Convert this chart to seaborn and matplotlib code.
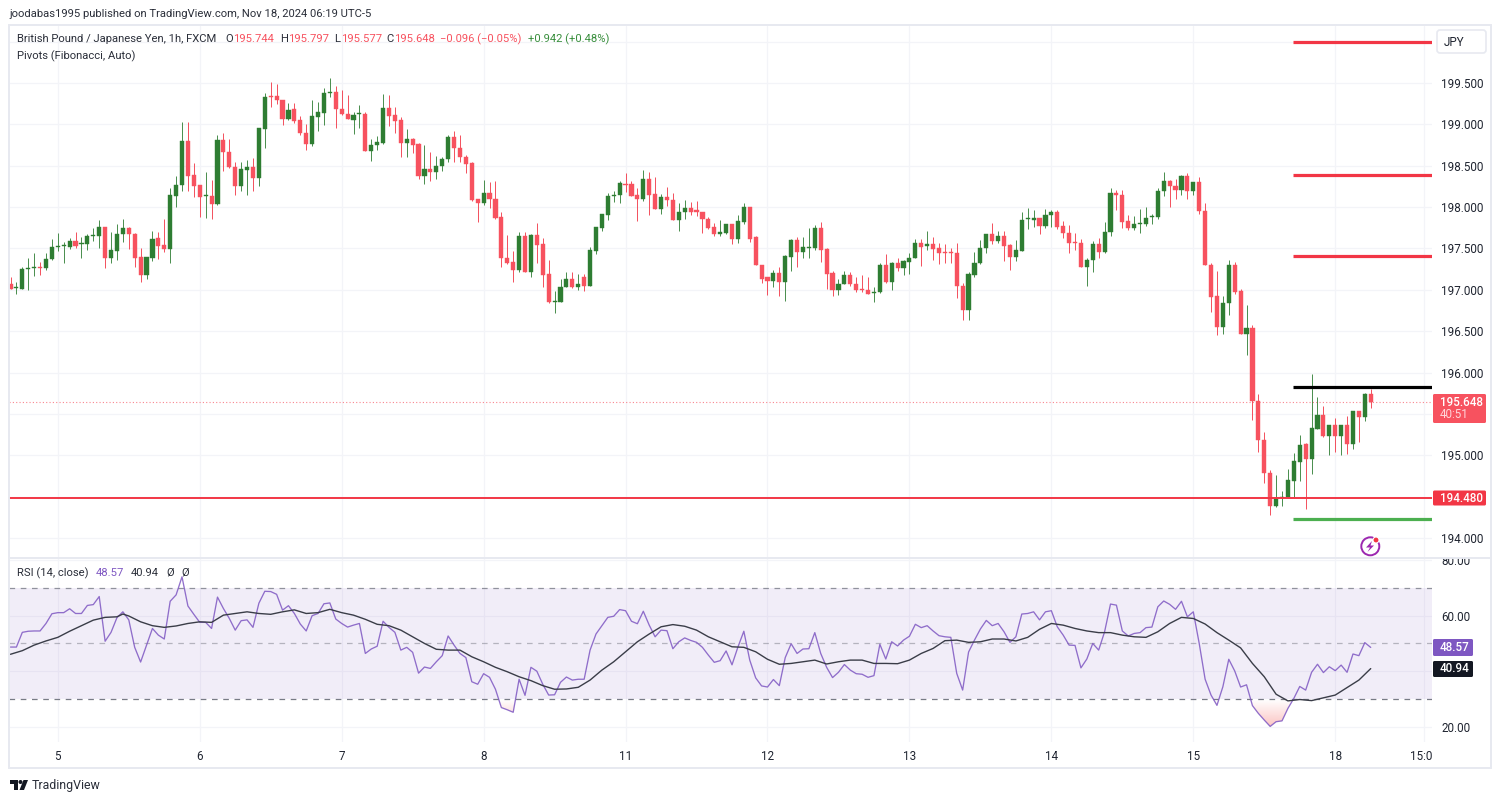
import matplotlib
matplotlib.use("Agg")
import matplotlib.pyplot as plt
import numpy as np
import pandas as pd
import seaborn as sns
from matplotlib.patches import Rectangle, FancyBboxPatch, Circle, Polygon
from matplotlib.path import Path
from matplotlib.transforms import Affine2D, Bbox

opens = [
197.07,197.02,197.01,197.25,197.26,197.27,197.26,197.37,197.52,197.53,
197.52,197.59,197.55,197.55,197.65,197.65,197.76,197.38,197.47,197.67,
197.75,197.68,197.40,197.18,197.39,197.63,197.54,197.49,198.13,198.27,
198.80,198.39,198.27,198.13,198.13,198.04,198.81,198.66,198.48,198.25,
198.45,198.48,198.35,198.94,199.34,199.34,199.30,199.06,199.18,199.05,
198.90,198.76,199.09,199.14,199.38,199.39,199.19,199.13,199.05,199.12,
199.13,198.68,198.75,198.78,199.20,199.11,199.05,198.77,198.82,198.76,
198.37,198.46,198.43,198.50,198.58,198.85,198.72,198.60,198.53,198.10,
198.05,198.17,198.10,197.88,197.38,197.34,197.24,197.65,197.21,197.66,
197.55,197.19,196.85,196.85,197.03,197.13,197.03,197.15,197.05,197.47,
197.75,197.91,198.13,198.14,198.28,198.28,198.14,198.10,198.34,198.16,
197.98,198.12,198.09,197.84,197.94,197.99,197.96,197.94,197.86,197.76,
197.67,197.69,197.80,197.61,197.82,198.00,197.64,197.30,197.15,197.11,
197.20,197.09,197.40,197.60,197.46,197.51,197.51,197.75,197.49,197.20,
197.00,197.07,197.18,197.07,197.01,197.00,196.96,196.97,197.30,197.10,
197.33,197.26,197.34,197.39,197.57,197.53,197.55,197.50,197.45,197.45,
197.44,197.05,196.76,197.18,197.32,197.50,197.68,197.59,197.65,197.54,
197.40,197.47,197.85,197.84,197.87,197.77,197.90,197.94,197.77,197.69,
197.57,197.57,197.28,197.36,197.55,197.46,197.70,198.17,198.15,197.83,
197.75,197.80,197.80,197.88,197.88,198.19,198.31,198.26,198.21,198.37,
198.20,198.30,197.95,197.30,196.92,196.55,196.84,197.30,196.98,196.47,
196.54,195.66,195.19,194.79,194.39,194.48,194.49,194.69,194.92,195.14,
194.96,195.32,195.49,195.23,195.36,195.23,195.36,195.14,195.53,195.46,
195.744]
highs = [
197.16,197.10,197.27,197.38,197.44,197.34,197.45,197.62,197.69,197.58,
197.63,197.70,197.64,197.68,197.75,197.84,197.76,197.70,197.80,197.86,
197.76,197.69,197.50,197.40,197.71,197.70,197.85,198.23,198.37,199.03,
199.03,198.53,198.27,198.42,198.33,198.87,198.89,198.82,198.54,198.55,
198.57,198.59,198.95,199.38,199.51,199.49,199.30,199.26,199.26,199.10,
199.01,199.29,199.27,199.44,199.56,199.46,199.42,199.36,199.15,199.23,
199.15,198.82,198.86,199.37,199.36,199.21,199.09,198.94,198.84,198.77,
198.75,198.67,198.62,198.60,198.87,198.92,198.87,198.63,198.55,198.10,
198.33,198.30,198.31,197.94,197.66,197.47,197.70,197.70,197.67,197.81,
197.63,197.36,196.98,197.13,197.22,197.22,197.19,197.19,197.52,197.76,
197.92,198.17,198.19,198.31,198.41,198.31,198.23,198.45,198.42,198.36,
198.16,198.24,198.17,198.05,198.09,198.06,198.07,197.94,197.88,197.81,
197.84,197.80,197.80,197.90,198.05,198.00,197.65,197.30,197.16,197.24,
197.28,197.42,197.62,197.64,197.64,197.75,197.78,197.82,197.50,197.23,
197.13,197.23,197.22,197.16,197.18,197.15,197.03,197.33,197.43,197.34,
197.38,197.36,197.44,197.62,197.62,197.71,197.64,197.57,197.55,197.51,
197.57,197.08,197.22,197.46,197.60,197.68,197.81,197.71,197.71,197.55,
197.60,197.94,197.99,197.96,197.87,197.98,197.96,197.96,197.83,197.78,
197.69,197.61,197.38,197.59,197.63,197.82,198.23,198.21,198.21,197.90,
197.89,197.98,198.00,197.92,198.23,198.43,198.33,198.34,198.39,198.41,
198.30,198.36,198.05,197.33,197.23,196.92,197.36,197.34,197.01,196.82,
196.58,195.74,195.28,194.82,194.76,194.57,194.84,195.03,195.24,195.15,
195.98,195.71,195.60,195.36,195.45,195.36,195.47,195.54,195.53,195.75,
195.797]
lows = [
197.01,196.95,197.01,197.00,197.17,197.18,197.24,197.36,197.47,197.32,
197.49,197.51,197.39,197.48,197.59,197.50,197.26,197.33,197.36,197.58,
197.49,197.27,197.09,197.13,197.35,197.37,197.46,197.32,198.00,198.19,
198.19,198.12,197.88,197.87,197.86,198.02,198.44,198.47,198.14,198.20,
198.14,198.19,198.26,198.71,199.21,199.24,198.99,199.05,199.02,198.87,
198.69,198.74,198.92,198.99,199.33,198.95,199.11,199.06,198.88,198.96,
198.68,198.56,198.69,198.76,198.98,198.89,198.60,198.61,198.65,198.34,
198.28,198.31,198.34,198.44,198.54,198.54,198.54,198.41,198.07,197.82,
198.03,197.99,197.86,197.28,197.31,197.10,197.22,197.21,197.16,197.33,
197.03,196.84,196.72,196.85,197.03,197.02,197.00,196.99,197.05,197.43,
197.71,197.84,198.06,198.05,198.18,198.13,197.83,198.07,197.91,197.98,
197.92,198.01,197.84,197.71,197.86,197.90,197.89,197.69,197.74,197.65,
197.65,197.68,197.55,197.56,197.80,197.58,197.30,197.08,196.94,197.03,
196.92,196.87,197.23,197.28,197.38,197.38,197.48,197.34,197.01,196.92,
196.94,197.07,197.05,196.97,196.97,196.95,196.85,196.96,197.08,197.00,
197.23,197.18,197.19,197.39,197.29,197.48,197.36,197.31,197.33,197.33,
196.90,196.64,196.64,197.15,197.31,197.45,197.55,197.57,197.35,197.24,
197.35,197.47,197.74,197.76,197.67,197.75,197.76,197.73,197.63,197.44,
197.48,197.28,197.05,197.22,197.39,197.44,197.65,197.96,197.75,197.72,
197.72,197.69,197.77,197.79,197.86,198.13,198.00,198.10,198.14,198.10,
198.14,197.92,197.30,196.73,196.45,196.47,196.70,196.95,196.46,196.21,
195.43,195.04,194.66,194.28,194.38,194.39,194.49,194.50,194.69,194.35,
194.77,195.32,195.22,195.00,195.04,195.00,195.02,195.07,195.16,195.41,
195.577]
closes = [
197.01,197.02,197.25,197.26,197.27,197.26,197.37,197.52,197.53,197.53,
197.59,197.53,197.56,197.65,197.66,197.76,197.38,197.48,197.67,197.75,
197.68,197.39,197.18,197.40,197.62,197.53,197.49,198.14,198.27,198.80,
198.38,198.26,198.12,198.14,198.04,198.81,198.66,198.48,198.25,198.46,
198.48,198.35,198.95,199.33,199.33,199.30,199.06,199.17,199.04,198.90,
198.76,199.10,199.15,199.38,199.39,199.18,199.12,199.06,199.11,199.13,
198.68,198.75,198.79,199.20,199.10,199.04,198.77,198.82,198.75,198.37,
198.46,198.43,198.50,198.58,198.85,198.71,198.60,198.52,198.09,198.05,
198.17,198.10,197.87,197.38,197.33,197.24,197.65,197.21,197.66,197.54,
197.18,196.85,196.86,197.04,197.13,197.03,197.07,197.05,197.48,197.76,
197.92,198.13,198.15,198.29,198.27,198.13,198.10,198.34,198.15,197.98,
198.12,198.09,197.84,197.94,197.99,197.94,197.94,197.86,197.75,197.67,
197.70,197.80,197.61,197.83,198.00,197.62,197.30,197.13,197.11,197.20,
197.09,197.41,197.60,197.46,197.52,197.52,197.75,197.48,197.19,197.00,
197.07,197.18,197.07,197.00,197.00,196.95,196.97,197.30,197.10,197.33,
197.26,197.35,197.39,197.57,197.52,197.55,197.49,197.44,197.44,197.44,
197.05,196.76,197.19,197.33,197.51,197.68,197.59,197.65,197.53,197.40,
197.48,197.84,197.86,197.87,197.77,197.91,197.94,197.76,197.69,197.56,
197.56,197.28,197.36,197.55,197.46,197.70,198.17,198.14,197.82,197.75,
197.80,197.81,197.87,197.89,198.19,198.31,198.26,198.21,198.37,198.20,
198.30,197.95,197.30,196.91,196.55,196.84,197.30,196.97,196.47,196.54,
195.65,195.19,194.79,194.39,194.48,194.50,194.70,194.93,195.13,194.96,
195.33,195.49,195.23,195.36,195.23,195.36,195.14,195.53,195.46,195.74,
195.648]
rsi = [
48.7,48.7,54.0,54.4,54.5,54.5,57.2,60.7,61.1,61.1,
62.5,60.8,60.8,63.7,64.0,66.9,50.8,54.0,59.3,61.4,
58.5,48.6,43.3,49.4,55.4,53.0,51.6,65.2,67.5,74.0,
63.5,60.5,57.6,57.6,55.4,66.7,62.6,59.0,54.8,58.2,
58.5,55.8,64.5,68.8,68.7,67.7,62.0,63.6,60.8,57.0,
54.5,60.0,60.8,64.3,64.6,58.8,57.2,55.9,56.6,57.2,
46.4,48.0,49.0,58.0,55.8,54.0,47.6,48.6,46.8,39.3,
41.5,41.0,43.4,45.6,52.7,49.4,46.4,44.9,36.2,35.3,
39.1,37.8,33.5,26.9,26.1,25.2,37.1,31.3,41.4,40.0,
35.3,31.4,31.5,36.0,37.9,36.8,37.1,37.1,47.6,53.4,
56.4,59.4,59.8,62.2,61.8,58.0,57.1,61.6,56.6,52.4,
54.8,54.6,48.1,50.6,52.0,51.1,50.4,48.6,45.8,43.2,
43.8,47.3,42.3,48.7,54.4,44.0,37.6,34.7,34.3,37.0,
34.8,44.9,49.9,46.4,48.0,48.1,53.9,46.4,41.4,37.7,
39.6,42.4,40.4,39.1,38.9,37.8,38.4,49.7,44.4,50.6,
49.1,51.2,52.6,56.9,55.7,56.4,54.5,52.8,52.4,52.2,
39.2,33.2,46.9,51.2,55.2,58.3,56.4,57.2,54.2,50.4,
52.4,60.6,60.8,61.4,58.5,61.4,61.8,56.0,53.0,49.4,
49.3,41.2,44.4,50.0,47.6,54.2,64.2,63.8,54.5,52.7,
53.6,53.9,55.7,55.9,63.2,65.3,64.1,62.3,65.2,59.6,
61.4,50.0,37.1,31.4,27.7,34.4,44.3,40.1,34.3,35.1,
27.6,24.8,22.4,20.1,21.8,22.1,26.6,30.2,34.5,33.2,
39.6,42.5,39.5,41.6,40.2,42.2,39.6,46.2,45.6,50.3,48.57]
ma_hours = [0,2,4,6,8,10,12,14,16,18,19,20,22,24,26,28,30,32,34,36,38,40,42,44,46,48,50,52,54,56,58,
            60,62,64,66,68,70,72,74,76,78,80,82,84,86,88,90,92,94,96,98,100,102,104,106,108,110,112,
            114,116,118,120,122,124,126,128,130,132,134,136,138,140,142,144,146,148,150,152,154,156,
            158,160,162,164,166,168,170,172,174,176,178,180,182,184,186,188,190,192,194,196,198,200,
            202,204,206,208,210,212,214,216,218,220,224,226,228,230]
ma_values = [46.1,47.4,49.4,50.9,52.2,54.4,56.4,58.4,59.4,59.6,60.6,59.9,57.8,56.4,55.8,56.3,57.2,57.8,
             57.6,60.2,60.8,61.4,60.8,60.5,61.4,62.1,60.8,61.1,62.3,61.1,60.2,58.7,56.9,56.4,54.8,52.4,
             50.0,47.9,47.6,47.6,45.2,43.4,41.4,39.8,38.0,36.6,34.8,33.5,33.6,34.2,36.8,40.4,43.4,47.0,
             50.6,53.4,56.0,56.8,56.2,54.8,52.4,50.6,48.8,48.6,47.0,44.3,42.5,42.8,43.4,44.0,42.6,43.4,
             44.0,44.0,42.8,42.8,42.7,44.0,46.4,48.2,51.0,51.2,50.4,50.6,51.6,51.6,50.9,52.2,55.1,57.2,
             56.6,55.4,54.5,53.9,53.9,53.0,52.4,52.2,54.2,57.2,59.4,59.0,57.0,53.9,51.2,48.4,42.8,38.0,
             31.7,29.3,29.8,29.4,31.4,34.1,36.8,40.94]
pivot_reds = [199.99, 198.39, 197.41]
pivot_black = 195.825
pivot_green = 194.23
pivot_start = 216.9
level_price = 194.48
last_price = 195.648
price_ticks = [194.0,194.5,195.0,195.5,196.0,196.5,197.0,197.5,198.0,198.5,199.0,199.5,200.0]
price_labels = ["194.000","","195.000","","196.000","196.500","197.000","197.500","198.000","198.500","199.000","199.500",""]
rsi_ticks = [20,40,60,80]
rsi_labels = ["20.00","","60.00","80.00"]
day_hours = [8,32,56,80,104,128,152,176,200,224,239]
day_labels = ["5","6","7","8","11","12","13","14","15","18","15:00"]

assert all(len(a)==231 for a in (opens,highs,lows,closes,rsi))
assert len(ma_hours)==len(ma_values), (len(ma_hours),len(ma_values))

RED="#F7525F"; REDW="#F23645"; GREEN="#2E7D32"; GRID="#F3F4F8"; TXT="#131722"; PURPLE="#7E57C2"
sns.set_theme(style="white")
plt.rcParams['font.family']=['Roboto','DejaVu Sans']
W,H=1500,802
fig=plt.figure(figsize=(W/100,H/100),dpi=100,facecolor="white")
px=Affine2D().scale(1,-1).translate(0,H)
def rect(l,t,r,b): return [l/W,1-b/H,(r-l)/W,(b-t)/H]
PXH=5.914
X0=10.5
xlim=((9-X0)/PXH,(1432-X0)/PXH)
ylim_p=(194+(538-558)/82.73,194+(538-26)/82.73)
ylim_r=(60-(742-615.7)/2.775,60-(558-615.7)/2.775)
ax=fig.add_axes(rect(9,26,1432,558))
ar=fig.add_axes(rect(9,558,1432,742))
for a in (ax,ar):
    a.set_xlim(*xlim); a.set_facecolor("none")
    for s in a.spines.values(): s.set_visible(False)
    a.set_xticks(day_hours); a.grid(True,color=GRID,lw=0.9); a.set_axisbelow(True)
    a.yaxis.tick_right()
    a.tick_params(axis='both',length=0,colors=TXT)
ax.set_ylim(*ylim_p)
ar.set_ylim(*ylim_r)
ax.set_xticklabels([])
ax.set_yticks(price_ticks); ax.set_yticklabels(price_labels,fontsize=8.4,color="#1f2430")
ax.tick_params(axis='y',pad=6.5)
ar.set_yticks(rsi_ticks); ar.set_yticklabels(rsi_labels,fontsize=8.4,color="#1f2430")
ar.tick_params(axis='y',pad=6.5)
ar.set_xticklabels(day_labels,fontsize=8.4,color="#1f2430")
ar.tick_params(axis='x',pad=5.5)
clip_time=Bbox([[0,0],[1432,H]])
for lab in ar.get_xticklabels():
    if lab.get_text()=="15:00":
        lab.set_clip_box(clip_time); lab.set_clip_on(True)
clip_rsi=Bbox([[1433,0],[1500,H-558]])
for lab in ar.get_yticklabels():
    lab.set_clip_box(clip_rsi); lab.set_clip_on(True)

# candles
hours=np.arange(len(closes))
o=np.array(opens);h=np.array(highs);l=np.array(lows);c=np.array(closes)
up=c>=o
cols=np.where(up,GREEN,RED)
wick=np.where(up,GREEN,REDW)
ax.vlines(hours,l,h,colors=wick,lw=0.72,alpha=0.85,zorder=3)
bot=np.minimum(o,c); ht=np.maximum(np.abs(c-o),0.012)
ax.bar(hours,ht,bottom=bot,width=0.70,color=cols,edgecolor=cols,lw=0.3,zorder=4)

# price lines
ax.axhline(level_price,color=REDW,lw=1.4,zorder=5)
ax.axhline(last_price,color=RED,lw=0.8,ls=(0,(1,2)),alpha=0.7,zorder=2)
xr=xlim[1]
ax.hlines(pivot_reds,pivot_start,xr,color=REDW,lw=2.3,zorder=6)
ax.hlines([pivot_black],pivot_start,xr,color="#000000",lw=2.3,zorder=6)
ax.hlines([pivot_green],pivot_start,xr,color="#4CAF50",lw=2.3,zorder=6)

# RSI
ar.axhspan(30,70,color=PURPLE,alpha=0.1,lw=0,zorder=1)
for lv,al in ((70,0.8),(50,0.5),(30,1.0)):
    ar.axhline(lv,color="#787B86",lw=0.9,ls=(0,(4.5,4.5)),alpha=al,zorder=2)
rsi_df=pd.DataFrame({"hour":hours,"rsi":rsi})
ma_df=pd.DataFrame({"hour":ma_hours,"ma":ma_values})
grad=np.zeros((64,2,4))
grad[...,0]=0.96;grad[...,1]=0.27;grad[...,2]=0.25
grad[...,3]=np.linspace(0.32,0.0,64)[:,None]
ra=np.array(rsi,float)
poly=ar.fill_between(hours,ra,30,where=ra<=30.2,interpolate=True,color="none",lw=0)
im=ar.imshow(grad,extent=(xlim[0],xlim[1],20,30),origin="lower",aspect="auto",zorder=2.5,interpolation="bilinear")
paths=poly.get_paths()
if paths:
    im.set_clip_path(Path.make_compound_path(*paths),ar.transData)
ar.set_xlim(*xlim);ar.set_ylim(*ylim_r)
sns.lineplot(data=rsi_df,x="hour",y="rsi",ax=ar,color=PURPLE,lw=0.95,zorder=4,alpha=0.85,legend=False,errorbar=None)
sns.lineplot(data=ma_df,x="hour",y="ma",ax=ar,color="#3a3d48",lw=1.0,zorder=5,legend=False,errorbar=None)
ar.set_xlabel("");ar.set_ylabel("")
ax.set_xlabel("");ax.set_ylabel("")

# frame
def P(p):
    fig.add_artist(p); return p
P(Rectangle((9,25),1482,743,transform=px,fill=False,ec="#E7E9F0",lw=1.4))
P(plt.Line2D([9,1491],[558,558],transform=px,color="#E7E9F0",lw=1.4))

def T(x,y,s,color=TXT,size=8.1,ha="left",**k):
    return fig.text(x,y,s,transform=px,color=color,fontsize=size,ha=ha,va="center",**k)
T(9,14,"joodabas1995 published on TradingView.com, Nov 18, 2024 06:19 UTC-5",color="#2a2e39")
T(17,39.5,"British Pound / Japanese Yen, 1h, FXCM",color="#2a2e39")
for x,s,cc in ((225,"O","#2a2e39"),(233,"195.744",RED),(280,"H","#2a2e39"),(288,"195.797",RED),
               (334,"L","#2a2e39"),(341,"195.577",RED),(386,"C","#2a2e39"),(394,"195.648",RED),
               (440,"−0.096 (−0.05%)",RED),(528,"+0.942 (+0.48%)","#388E3C")):
    T(x,39.5,s,color=cc)
T(17,56,"Pivots (Fibonacci, Auto)",color="#2a2e39")
T(17,573,"RSI (14, close)",color="#2a2e39")
T(96,573,"48.57",color=PURPLE)
T(131,573,"40.94",color="#2a2e39")
T(166,573,"Ø",color="#2a2e39")
T(181,573,"Ø",color="#2a2e39")

# JPY box and price tags
P(FancyBboxPatch((1437,30),49,23,boxstyle="round,pad=0,rounding_size=3",transform=px,fc="white",ec="#E7E9F0",lw=1.2))
T(1444,42,"JPY",size=8.4,color="#1f2430")
def tag(l,t,r,b,col):
    P(FancyBboxPatch((l,t),r-l,b-t,boxstyle="round,pad=0,rounding_size=1.5",transform=px,fc=col,ec="none"))
tag(1433,394,1486,423,RED)
T(1440,402.5,"195.648",color="white",size=8.4,fontweight="medium")
T(1440,414.5,"40:51",color="#FFD5D9",size=8.4)
tag(1433,490.5,1486,505.5,REDW)
T(1440,498,"194.480",color="white",size=8.4,fontweight="medium")
tag(1433,639,1473,656,PURPLE)
T(1440,647.5,"48.57",color="white",size=8.4,fontweight="medium")
tag(1433,661,1473,677,TXT)
T(1440,669,"40.94",color="white",size=8.4,fontweight="medium")

# snapshot icon
P(Circle((1370.3,546.3),9,transform=px,fill=False,ec="#9C27B0",lw=1.4))
P(Polygon([(1372,541),(1366,547.5),(1370,547.5),(1367.5,552),(1374,545.5),(1370.5,545.5)],closed=True,transform=px,fc="#9C27B0",ec="none"))
P(Circle((1376,540),3,transform=px,fc="#F23645",ec="white",lw=0.8))

# TradingView mark
P(Polygon([(9.5,780),(17.5,780),(17.5,790),(13.5,790),(13.5,783.5),(9.5,783.5)],closed=True,transform=px,fc=TXT,ec="none"))
P(Circle((20.5,782),2,transform=px,fc=TXT,ec="none"))
P(Polygon([(28,780),(24,790),(19.5,790),(23.5,780)],closed=True,transform=px,fc=TXT,ec="none"))
T(31.5,785.5,"TradingView",size=8.9,color="#2a2e39")

fig.savefig("out.png",dpi=100,facecolor="white")
